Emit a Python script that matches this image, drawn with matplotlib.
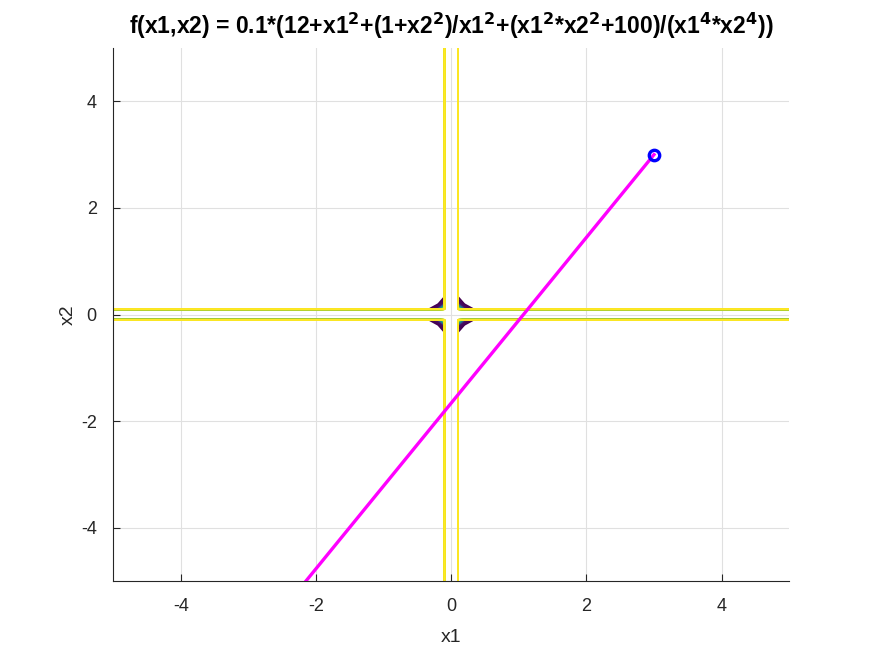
import numpy as np
import matplotlib
matplotlib.use("Agg")
import matplotlib.pyplot as plt

plt.rcParams['font.family'] = ['Liberation Sans', 'DejaVu Sans']
plt.rcParams['axes.unicode_minus'] = False
plt.rcParams['path.simplify'] = False

# grid for the contour (Octave-style meshgrid, step 0.1)
x1_grid = np.round(np.linspace(-5, 5, 101), 10)
x2_grid = np.round(np.linspace(-5, 5, 101), 10)

# optimisation path: start point and the first step
path_x1 = [3.0, -2.15]
path_x2 = [3.0, -5.0]
start = (3.0, 3.0)

X1, X2 = np.meshgrid(x1_grid, x2_grid)
with np.errstate(divide='ignore', invalid='ignore'):
    Z = 0.1 * (12 + X1**2 + (1 + X2**2) / X1**2 + (X1**2 * X2**2 + 100) / (X1**4 * X2**4))
finite = np.isfinite(Z)
zmin, zmax = Z[finite].min(), Z[finite].max()
Z[~finite] = 1e30  # division by zero on the axes
levels = np.linspace(zmin, zmax, 102)[1:-1]

fig = plt.figure(figsize=(8.72, 6.54), dpi=100)
ax = fig.add_axes([0.13, 0.1116, 0.775, 0.815])

cs = ax.contour(X1, X2, Z, levels=levels, cmap='viridis', linewidths=1.3)
cs.set_snap(False)
ax.plot(path_x1, path_x2, color='magenta', lw=2.4)
ax.plot(start[0], start[1], 'o', ms=7.5, mfc='none', mec='blue', mew=2.4)

ax.set_xlim(-5, 5)
ax.set_ylim(-5, 5)
ax.set_xticks([-4, -2, 0, 2, 4])
ax.set_yticks([-4, -2, 0, 2, 4])
ax.grid(True, color='#e0e0e0', lw=0.8)
ax.set_axisbelow(True)
for s in ['top', 'right']:
    ax.spines[s].set_visible(False)
for s in ['left', 'bottom']:
    ax.spines[s].set_color('#262626')
    ax.spines[s].set_linewidth(0.8)
ax.tick_params(direction='in', length=5, labelsize=13, colors='#262626', pad=12)

ax.set_xlabel('x1', fontsize=14, color='#262626', labelpad=10)
ax.set_ylabel('x2', fontsize=14, color='#262626', labelpad=3)
ax.set_title(r'f(x1,x2) = 0.1*(12+x1$^{\mathbf{2}}$+(1+x2$^{\mathbf{2}}$)/x1$^{\mathbf{2}}$+(x1$^{\mathbf{2}}$*x2$^{\mathbf{2}}$+100)/(x1$^{\mathbf{4}}$*x2$^{\mathbf{4}}$))',
             fontsize=16.5, fontweight='bold', pad=10)

fig.savefig('out.png', dpi=100)
